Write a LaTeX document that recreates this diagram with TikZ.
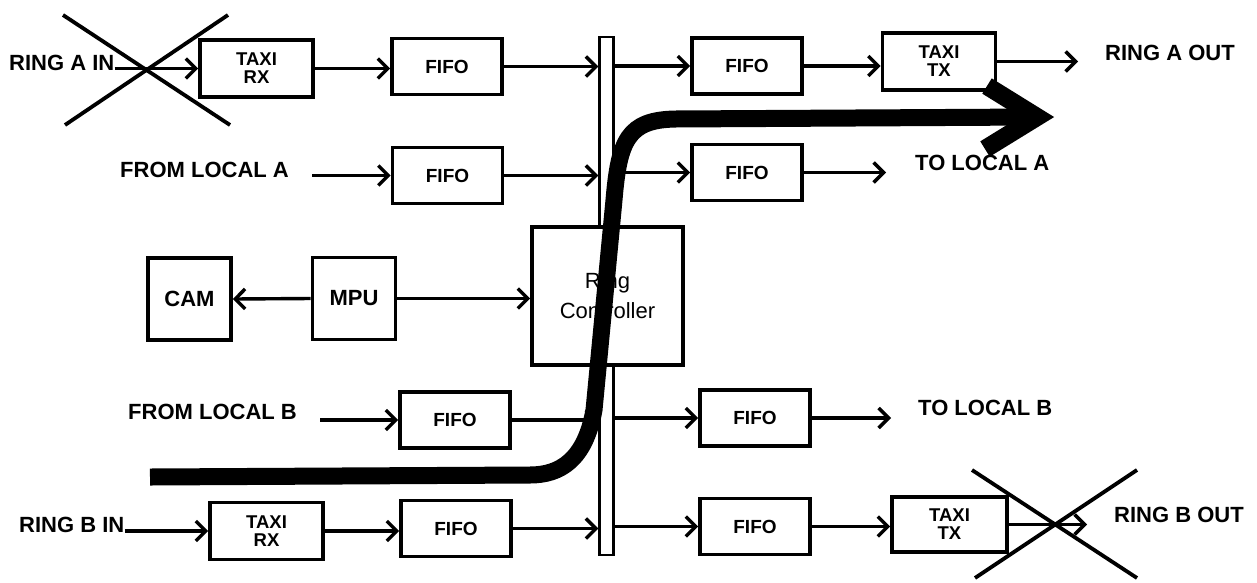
\documentclass[tikz,border=0pt]{standalone}
\usepackage{fontspec}
\setmainfont{Liberation Sans}
\usetikzlibrary{arrows.meta}
\begin{document}
\begin{tikzpicture}[x=1pt,y=-1pt,
  box/.style={draw, line width=3.6pt, fill=white, inner sep=0pt, align=center, font=\bfseries\fontsize{19}{20}\selectfont},
  fifo/.style={box, minimum width=110pt, minimum height=56pt},
  taxi/.style={box, minimum width=113pt, minimum height=57pt, font=\bfseries\fontsize{18.5}{18}\selectfont},
  sq/.style={box, minimum width=83pt, minimum height=82pt, font=\bfseries\fontsize{22}{24}\selectfont},
  ctrl/.style={box, minimum width=151pt, minimum height=138pt, font=\mdseries\fontsize{22}{30}\selectfont},
  lbl/.style={anchor=west, inner sep=0pt, font=\bfseries\fontsize{22}{24}\selectfont},
  conn/.style={line width=3.4pt, -{Straight Barb[length=10pt,width=20pt,line width=3.4pt]}},
  xmark/.style={line width=3.8pt},
  busbar/.style={draw, line width=2.4pt, minimum width=14pt, minimum height=518pt, inner sep=0pt},
  flow/.style={line width=17pt}]
\useasboundingbox (0,0) rectangle (1257,582);

% bus bar
\node[busbar] (bus) at (606.5,296) {};

% ring A row
\node[lbl] (ainL) at (9,63) {RING A IN};
\node[taxi] (rxA) at (256.5,68.5) {TAXI\\RX};
\node[fifo] (fA1) at (447,66.5) {FIFO};
\node[fifo] (fA2) at (747,66) {FIFO};
\node[taxi] (txA) at (939,61.5) {TAXI\\TX};
\node[lbl] (aoutL) at (1105,53) {RING A OUT};
\coordinate (aout) at (1078,61.5);

% local A row
\node[lbl] (flaL) at (120,170) {FROM LOCAL A};
\coordinate (fla) at (312,175.5);
\node[fifo] (fLA1) at (447.5,175.5) {FIFO};
\node[fifo] (fLA2) at (747,172.5) {FIFO};
\node[lbl] (tlaL) at (915,163) {TO LOCAL A};
\coordinate (tla) at (886,172.5);

% middle row
\node[sq] (cam) at (189.5,299) {CAM};
\node[sq] (mpu) at (354,298.5) {MPU};
\node[ctrl] (rc) at (607.5,296) {Ring\\Controller};

% local B row
\node[lbl] (flbL) at (128,412) {FROM LOCAL B};
\coordinate (flb) at (320,420);
\node[fifo] (fLB1) at (455,420) {FIFO};
\node[fifo] (fLB2) at (755,418) {FIFO};
\node[lbl] (tlbL) at (918,408) {TO LOCAL B};
\coordinate (tlb) at (891,418);

% ring B row
\node[lbl] (binL) at (19,525) {RING B IN};
\node[taxi] (rxB) at (266.5,531) {TAXI\\RX};
\node[fifo] (fB1) at (456,528.5) {FIFO};
\node[fifo] (fB2) at (755,526.5) {FIFO};
\node[taxi, minimum width=115pt, minimum height=55pt] (txB) at (949.5,524.5) {TAXI\\TX};
\node[lbl] (boutL) at (1114,515) {RING B OUT};
\coordinate (bout) at (1087,524.5);

% connectors ring A
\draw[conn] (rxA.west -| ainL.east) -- (rxA.west);
\draw[conn] (rxA.east) -- (rxA.east -| fA1.west);
\draw[conn] (fA1.east) -- (fA1.east -| bus.west);
\draw[conn] (fA2.west -| bus.east) -- (fA2.west);
\draw[conn] (fA2.east) -- (fA2.east -| txA.west);
\draw[conn] (txA.east) -- (aout);

% connectors local A
\draw[conn] (fla) -- (fLA1.west);
\draw[conn] (fLA1.east) -- (fLA1.east -| bus.west);
\draw[conn] (fLA2.west -| bus.east) -- (fLA2.west);
\draw[conn] (fLA2.east) -- (tla);

% middle
\draw[conn] (mpu.west) -- (cam.east);
\draw[conn] (mpu.east) -- (mpu.east -| rc.west);

% connectors local B
\draw[conn] (flb) -- (fLB1.west);
\draw[conn] (fLB1.east) -- (fLB1.east -| bus.west);
\draw[conn] (fLB2.west -| bus.east) -- (fLB2.west);
\draw[conn] (fLB2.east) -- (tlb);

% connectors ring B
\draw[conn] (rxB.west -| binL.east) -- (rxB.west);
\draw[conn] (rxB.east) -- (rxB.east -| fB1.west);
\draw[conn] (fB1.east) -- (fB1.east -| bus.west);
\draw[conn] (fB2.west -| bus.east) -- (fB2.west);
\draw[conn] (fB2.east) -- (fB2.east -| txB.west);
\draw[conn] (txB.east) -- (bout);

% crosses
\coordinate (xA) at (146.5,70);
\draw[xmark] (xA) ++(-83.5,-55) -- ++(167,110);
\draw[xmark] (xA) ++(-81.5,55) -- ++(163,-110);
\coordinate (xB) at (1055,524);
\draw[xmark] (xB) ++(-83,-54) -- ++(165,108);
\draw[xmark] (xB) ++(-80,54) -- ++(162,-108);

% thick flow path
\coordinate (fs) at (150,477);
\coordinate (fe) at (1034,117);
\coordinate (ftip) at (1037,117);
\draw[flow] (fs) -- (530,475) .. controls (560,475) and (585,460) .. (594,410)
  -- (614,200) .. controls (619,140) and (628,120) .. (675,119) -- (fe);
\draw[flow, line width=18pt, miter limit=10] (987,86) -- (ftip) -- (985,149);
\end{tikzpicture}
\end{document}
